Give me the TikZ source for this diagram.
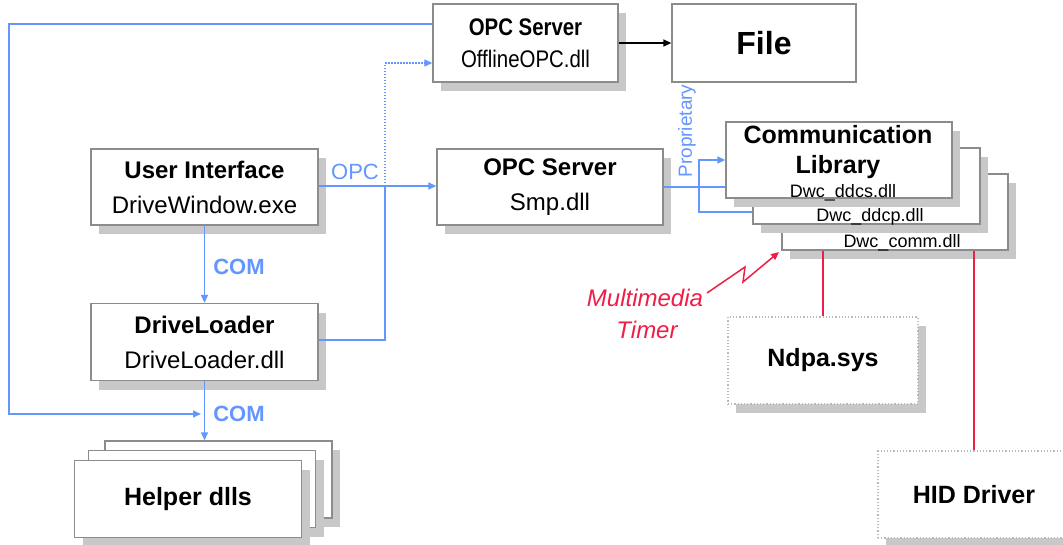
\documentclass[tikz,border=0pt]{standalone}
\usepackage{fontspec}
\usepackage{graphicx}
\setmainfont{Liberation Sans}
\usetikzlibrary{arrows.meta,shadows}
\definecolor{lblue}{RGB}{100,150,255}
\definecolor{lred}{RGB}{238,30,70}
\definecolor{bgray}{RGB}{140,140,140}
\definecolor{sgray}{RGB}{200,200,200}
\begin{document}
\begin{tikzpicture}[x=1pt,y=-1pt,
  box/.style={draw=bgray, line width=1.4pt, fill=white, inner sep=0pt, align=center,
    drop shadow={shadow xshift=8pt, shadow yshift=-9pt, fill=sgray, opacity=1}},
  plainbox/.style={draw=bgray, line width=1.4pt, fill=white, inner sep=0pt, align=center},
  dotbox/.style={draw=bgray!60, dotted, line width=1.2pt, fill=white, inner sep=0pt, align=center,
    drop shadow={shadow xshift=8pt, shadow yshift=-9pt, fill=sgray, opacity=1}},
  txt/.style={font=\fontsize{24}{35}\selectfont},
  bl/.style={draw=lblue, line width=1.5pt},
  rl/.style={draw=lred, line width=1.5pt},
  arr/.style={-{Triangle[length=8pt,width=7pt]}},
  lab/.style={text=lblue, inner sep=0pt, font=\fontsize{22}{26}\selectfont},
  dll/.style={inner sep=0pt, font=\fontsize{18}{20}\selectfont}]
\clip (0,0) rectangle (1063,544);
\fill[white] (0,0) rectangle (1063,544);

% boxes
\node[box, txt, minimum width=185pt, minimum height=78pt] (opc1) at (525.5,43)
  {\scalebox{0.85}[1]{\textbf{OPC Server}}\\[-3pt]\scalebox{0.85}[1]{OfflineOPC.dll}};
\node[plainbox, minimum width=184pt, minimum height=78pt, font=\fontsize{32}{36}\selectfont\bfseries] (file) at (764,43) {File};
\node[box, txt, minimum width=227pt, minimum height=76pt] (ui) at (204.5,187)
  {\textbf{User Interface}\\DriveWindow.exe};
\node[box, txt, minimum width=226pt, minimum height=76pt] (opc2) at (550,187)
  {\textbf{OPC Server}\\Smp.dll};
\node[box, txt, minimum width=227pt, minimum height=77pt] (dl) at (204.5,342)
  {\textbf{DriveLoader}\\DriveLoader.dll};

% helper stack
\node[box, minimum width=227pt, minimum height=77pt] (hb) at (218.5,479.5) {};
\node[box, minimum width=227pt, minimum height=77pt] (hm) at (202,489) {};
\node[box, minimum width=227pt, minimum height=77pt, font=\fontsize{25}{30}\selectfont\bfseries] (hf) at (188,499) {Helper dlls};

% communication stack
\node[box, minimum width=226pt, minimum height=76pt] (cb) at (895,212) {};
\node[box, minimum width=227pt, minimum height=76pt] (cm) at (866.5,186) {};
\node[box, minimum width=226pt, minimum height=76pt] (cf) at (839,160) {};
\node[inner sep=0pt, align=center, font=\fontsize{25}{30}\selectfont\bfseries] (cft) at (838,152) {Communication\\Library};
\node[dll] (d1) at (843,193) {Dwc\_ddcs.dll};
\node[dll] (d2) at (870,217) {Dwc\_ddcp.dll};
\node[dll] (d3) at (902,243) {Dwc\_comm.dll};

% drivers
\node[dotbox, minimum width=190pt, minimum height=87pt, font=\fontsize{25}{30}\selectfont\bfseries] (ndpa) at (823,360.5) {Ndpa.sys};
\node[dotbox, minimum width=192pt, minimum height=87pt, font=\fontsize{25}{30}\selectfont\bfseries] (hid) at (974,494.5) {HID Driver};

% connectors
\coordinate (coma) at (201,414);
\coordinate (junc) at (385,186);
\coordinate (pb) at (699,187);
\draw[bl,arr] (opc1.west |- 0,24) -- (9,24) -- (9,414) -- (coma);
\draw[bl] (dl.east |- 0,340) -- (385,340) -- (junc);
\draw[draw=lblue, line width=1.2pt, dash pattern=on 1.5pt off 1.5pt, arr] (junc) -- (385,63) -- (opc1.west |- 0,63);
\draw[bl,arr] (ui.east |- 0,186) -- (opc2.west |- 0,186);
\draw[bl,arr] (ui.south) -- (dl.north);
\draw[bl,arr] (dl.south) -- (dl.south |- hb.north);
\draw[black, line width=1.5pt, arr] (opc1.east) -- (file.west);
\draw[bl] (opc2.east) -- (opc2.east -| cf.west);
\draw[bl,arr] (pb) -- (pb |- cf.west) -- (cf.west);
\draw[bl] (pb) -- (699,212) -- (cm.west |- 0,212);
\draw[rl] (ndpa.north |- cb.south) -- (ndpa.north);
\draw[rl] (hid.north |- cb.south) -- (hid.north);
\coordinate (lz0) at (707,293);
\coordinate (lz3) at (779,252);
\draw[rl,arr] (lz0) -- (745,267) -- (743,282) -- (lz3);

% labels
\node[lab] (lopc) at (355,172) {OPC};
\node[lab, font=\fontsize{22}{26}\selectfont\bfseries] (lcom1) at (239,267) {COM};
\node[lab, font=\fontsize{22}{26}\selectfont\bfseries] (lcom2) at (239,414) {COM};
\node[text=lblue, inner sep=0pt, rotate=90, font=\fontsize{19}{20}\selectfont] (prop) at (687,131) {Proprietary};
\node[text=lred, inner sep=0pt, font=\fontsize{24}{28}\selectfont\itshape] (mm) at (645,298) {Multimedia};
\node[text=lred, inner sep=0pt, font=\fontsize{24}{28}\selectfont\itshape] (tm) at (647,330) {Timer};
\end{tikzpicture}
\end{document}
